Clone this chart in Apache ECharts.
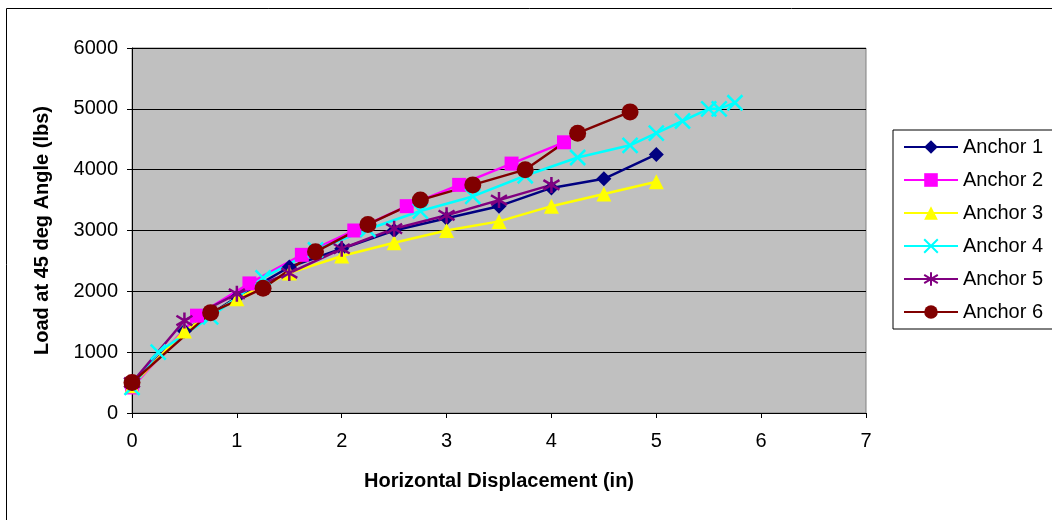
<!DOCTYPE html>
<html>
<head>
<meta charset="utf-8">
<script src="https://cdn.jsdelivr.net/npm/echarts@6/dist/echarts.min.js"></script>
<style>
  html, body { margin: 0; padding: 0; background: #fff; }
  #main { width: 1052px; height: 520px; }
</style>
</head>
<body>
<div id="main"></div>
<script>
// 位移 (in) / 荷载 (lbs)
var anchor1X = [0, 0.5, 1, 1.5, 2, 2.5, 3, 3.5, 4, 4.5, 5];
var anchor1Y = [480, 1350, 1900, 2400, 2700, 3000, 3200, 3400, 3700, 3850, 4250];
var anchor2X = [0, 0.62, 1.12, 1.62, 2.12, 2.62, 3.12, 3.62, 4.12];
var anchor2Y = [420, 1600, 2130, 2600, 3000, 3400, 3750, 4100, 4450];
var anchor3X = [0, 0.5, 1, 1.5, 2, 2.5, 3, 3.5, 4, 4.5, 5];
var anchor3Y = [450, 1350, 1880, 2300, 2580, 2800, 3000, 3150, 3400, 3600, 3800];
var anchor4X = [0, 0.25, 0.75, 1.25, 1.75, 2.25, 2.75, 3.25, 3.75, 4.25, 4.75, 5, 5.25, 5.5, 5.6, 5.75];
var anchor4Y = [420, 1000, 1580, 2220, 2680, 3020, 3320, 3560, 3900, 4200, 4400, 4600, 4800, 5000, 5000, 5100];
var anchor5X = [0, 0.5, 1, 1.5, 2, 2.5, 3, 3.5, 4];
var anchor5Y = [500, 1520, 1960, 2300, 2700, 3030, 3250, 3500, 3750];
var anchor6X = [0, 0.75, 1.25, 1.75, 2.25, 2.75, 3.25, 3.75, 4.25, 4.75];
var anchor6Y = [500, 1650, 2050, 2650, 3100, 3500, 3750, 4000, 4600, 4950];
var seriesNames = ['Anchor 1', 'Anchor 2', 'Anchor 3', 'Anchor 4', 'Anchor 5', 'Anchor 6'];
var xTicks = [0, 1, 2, 3, 4, 5, 6, 7];
var yTicks = [0, 1000, 2000, 3000, 4000, 5000, 6000];

var FONT = 'Liberation Sans, Arial, sans-serif';

function pairs(xs, ys) {
    var out = [];
    for (var i = 0; i < xs.length; i++) {
        out.push([xs[i], ys[i]]);
    }
    return out;
}

function makeSeries(name, xs, ys, color, symbol, size, stroke) {
    return {
        name: name,
        type: 'line',
        data: pairs(xs, ys),
        symbol: symbol,
        symbolSize: size,
        showAllSymbol: true,
        lineStyle: { color: color, width: 2.5 },
        itemStyle: stroke ? { color: color, borderColor: color, borderWidth: 2.5 } : { color: color, borderWidth: 0 },
        emphasis: { disabled: true },
        animation: false
    };
}

var myChart = echarts.init(document.getElementById('main'));
var option = {
    backgroundColor: '#ffffff',
    animation: false,
    graphic: [{
        type: 'rect',
        shape: { x: 6.5, y: 8.5, width: 1200, height: 600 },
        style: { fill: 'none', stroke: '#000', lineWidth: 1 },
        z: -10
    }],
    grid: {
        left: 132, top: 48, width: 734, height: 365,
        show: true,
        backgroundColor: '#c0c0c0',
        borderColor: '#808080',
        borderWidth: 1
    },
    legend: {
        orient: 'vertical',
        left: 893, top: 130,
        data: seriesNames,
        itemWidth: 54,
        itemHeight: 17,
        itemGap: 13,
        padding: [7, 30, 7, 10],
        borderColor: '#000',
        borderWidth: 1,
        backgroundColor: '#fff',
        textStyle: { fontFamily: FONT, fontSize: 20, color: '#000' }
    },
    xAxis: {
        type: 'value',
        min: xTicks[0], max: xTicks[xTicks.length - 1], interval: 1,
        name: 'Horizontal Displacement (in)',
        nameLocation: 'middle',
        nameGap: 58,
        nameTextStyle: { fontFamily: FONT, fontSize: 20, fontWeight: 'bold', color: '#000' },
        axisLine: { lineStyle: { color: '#000', width: 1 } },
        axisTick: { inside: false, length: 5, lineStyle: { color: '#000' } },
        axisLabel: { fontFamily: FONT, fontSize: 20, color: '#000', margin: 18 },
        splitLine: { show: false }
    },
    yAxis: {
        type: 'value',
        min: yTicks[0], max: yTicks[yTicks.length - 1], interval: 1000,
        name: 'Load at 45 deg Angle (lbs)',
        nameLocation: 'middle',
        nameGap: 80,
        nameTextStyle: { fontFamily: FONT, fontSize: 20, fontWeight: 'bold', color: '#000' },
        axisLine: { show: true, lineStyle: { color: '#000', width: 1 } },
        axisTick: { show: true, inside: false, length: 5, lineStyle: { color: '#000' } },
        axisLabel: {
            fontFamily: FONT, fontSize: 20, color: '#000', margin: 14,
            formatter: function (v) { return String(v); }
        },
        splitLine: { show: true, lineStyle: { color: '#000', width: 1 } }
    },
    series: [
        makeSeries(seriesNames[0], anchor1X, anchor1Y, '#000080', 'diamond', 15, false),
        makeSeries(seriesNames[1], anchor2X, anchor2Y, '#ff00ff', 'rect', 14, false),
        makeSeries(seriesNames[2], anchor3X, anchor3Y, '#ffff00', 'triangle', 15, false),
        makeSeries(seriesNames[3], anchor4X, anchor4Y, '#00ffff', 'path://M0,0L10,10M10,0L0,10', 15, true),
        makeSeries(seriesNames[4], anchor5X, anchor5Y, '#800080', 'path://M5,0L5,10M0,2L10,8M10,2L0,8', 16, true),
        makeSeries(seriesNames[5], anchor6X, anchor6Y, '#800000', 'circle', 17, false)
    ]
};
myChart.setOption(option);
</script>
</body>
</html>
